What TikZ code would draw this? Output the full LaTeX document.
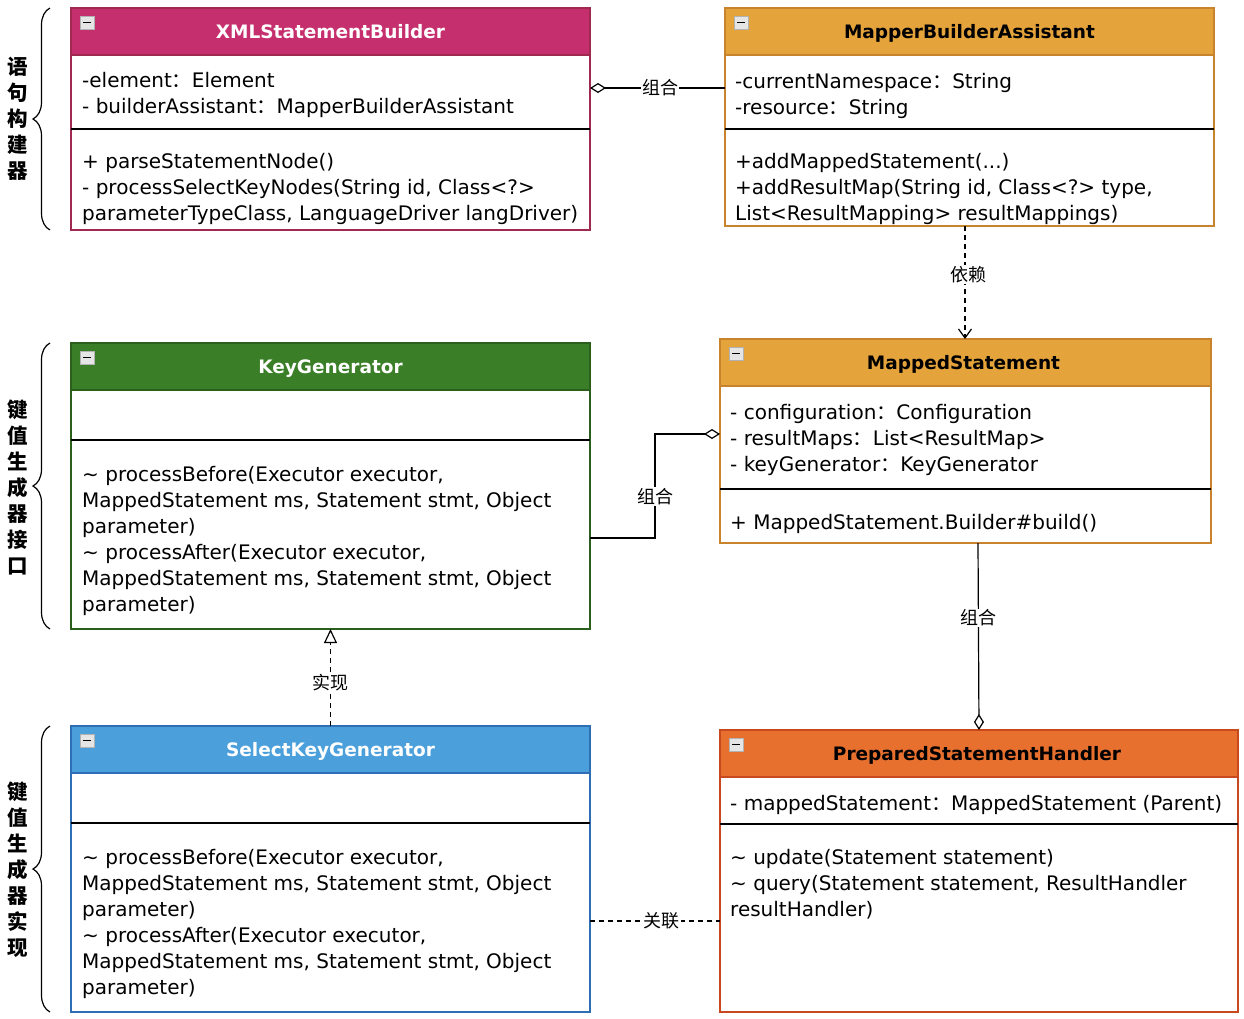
\documentclass[tikz,border=0pt]{standalone}
\usepackage{fontspec}
\setmainfont{DejaVu Sans}
\newfontfamily\cjk{Noto Sans CJK SC}
\usetikzlibrary{arrows.meta,calc,decorations.pathreplacing}
\definecolor{xsbH}{HTML}{C62F6D}
\definecolor{xsbB}{HTML}{A0294F}
\definecolor{orH}{HTML}{E4A33B}
\definecolor{orB}{HTML}{C8832C}
\definecolor{kgH}{HTML}{3A7F27}
\definecolor{kgB}{HTML}{2B5F1C}
\definecolor{skgH}{HTML}{4BA0DC}
\definecolor{skgB}{HTML}{2E6EB5}
\definecolor{pshH}{HTML}{E8702F}
\definecolor{pshB}{HTML}{C9491F}
\newcommand\fcolon{{\cjk ：}}
\newcommand\umlbox[7]{%
  \node[frame, draw=#6, minimum width=#4pt, minimum height=#5pt] (#1) at (#2,#3) {};
  \fill[#7] (#1.north west) rectangle ($(#1.north east)+(0,47)$);
  \draw[#6, line width=1.2pt] ($(#1.north west)+(0,47)$) -- ($(#1.north east)+(0,47)$);
  \draw[#6, line width=1.5pt] (#1.north west) rectangle (#1.south east);
  \draw[gray!60, fill=gray!20, line width=0.8pt] ($(#1.north west)+(9,8)$) rectangle ++(14,13);
  \draw[black, line width=1.8pt] ($(#1.north west)+(12,14.5)$) -- ++(8,0);
}
\tikzset{odiamond/.tip={Diamond[open, fill=white, length=16pt, width=10pt]}}
\begin{document}
\begin{tikzpicture}[x=1pt,y=-1pt,
  frame/.style={line width=1.5pt, fill=white, anchor=north west, inner sep=0pt, outer sep=0pt},
  title/.style={font=\fontsize{18.5}{22}\selectfont\bfseries, inner sep=0pt, anchor=base},
  body/.style={anchor=north west, inner sep=0pt, align=left, font=\fontsize{20}{26}\selectfont},
  divider/.style={line width=2.2pt, black},
  conn/.style={line width=1.2pt, black},
  dashline/.style={conn, dash pattern=on 5pt off 4pt},
  lbl/.style={fill=white, inner sep=1pt, font=\cjk\fontsize{18}{20}\selectfont},
  side/.style={font=\cjk\bfseries\fontsize{20.5}{26}\selectfont, align=center, inner sep=0pt},
  bracestyle/.style={decorate, decoration={brace, amplitude=17pt}, line width=1.2pt}
]
\fill[white] (0,0) rectangle (1244,1018);
\useasboundingbox (0,0) rectangle (1244,1018);

% ---------- classes ----------
\umlbox{xsb}{71}{8}{519}{222}{xsbB}{xsbH}
\umlbox{mba}{725}{8}{489}{218}{orB}{orH}
\umlbox{kg}{71}{343}{519}{286}{kgB}{kgH}
\umlbox{ms}{720}{339}{491}{204}{orB}{orH}
\umlbox{skg}{71}{726}{519}{286}{skgB}{skgH}
\umlbox{psh}{720}{730}{518}{282}{pshB}{pshH}

% titles
\node[title, text=white] (xsbT) at ($(xsb.north)+(0,30.5)$) {XMLStatementBuilder};
\node[title, text=black] (mbaT) at ($(mba.north)+(0,30.5)$) {MapperBuilderAssistant};
\node[title, text=white] (kgT) at ($(kg.north)+(0,30.5)$) {KeyGenerator};
\node[title, text=black] (msT) at ($(ms.north)+(-2,30.5)$) {MappedStatement};
\node[title, text=white] (skgT) at ($(skg.north)+(0,30.5)$) {SelectKeyGenerator};
\node[title, text=black] (pshT) at ($(psh.north)+(-2,30.5)$) {PreparedStatementHandler};

% dividers
\draw[divider] ($(xsb.north west)+(0,121)$) -- ($(xsb.north east)+(0,121)$);
\draw[divider] ($(mba.north west)+(0,121)$) -- ($(mba.north east)+(0,121)$);
\draw[divider] ($(kg.north west)+(0,97)$) -- ($(kg.north east)+(0,97)$);
\draw[divider] ($(ms.north west)+(0,150)$) -- ($(ms.north east)+(0,150)$);
\draw[divider] ($(skg.north west)+(0,97)$) -- ($(skg.north east)+(0,97)$);
\draw[divider] ($(psh.north west)+(0,94)$) -- ($(psh.north east)+(0,94)$);

% body texts
\node[body] (xsbA) at (82,68) {\rule{0pt}{19pt}-element\fcolon Element\\- builderAssistant\fcolon MapperBuilderAssistant};
\node[body] (xsbM) at (82,149) {\rule{0pt}{19pt}+ parseStatementNode()\\- processSelectKeyNodes(String id, Class<?>\\parameterTypeClass, LanguageDriver langDriver)};
\node[body] (mbaA) at (735,69) {\rule{0pt}{19pt}-currentNamespace\fcolon String\\-resource\fcolon String};
\node[body] (mbaM) at (735,149) {\rule{0pt}{19pt}+addMappedStatement(...)\\+addResultMap(String id, Class<?> type,\\List<ResultMapping> resultMappings)};
\node[body] (kgM) at (82,462) {\rule{0pt}{19pt}\textasciitilde{} processBefore(Executor executor,\\MappedStatement ms, Statement stmt, Object\\parameter)\\\textasciitilde{} processAfter(Executor executor,\\MappedStatement ms, Statement stmt, Object\\parameter)};
\node[body] (msA) at (730,400) {\rule{0pt}{19pt}- configuration\fcolon Configuration\\- resultMaps\fcolon List<ResultMap>\\- keyGenerator\fcolon KeyGenerator};
\node[body] (msM) at (730,510) {\rule{0pt}{19pt}+ MappedStatement.Builder\#build()};
\node[body] (skgM) at (82,845) {\rule{0pt}{19pt}\textasciitilde{} processBefore(Executor executor,\\MappedStatement ms, Statement stmt, Object\\parameter)\\\textasciitilde{} processAfter(Executor executor,\\MappedStatement ms, Statement stmt, Object\\parameter)};
\node[body] (pshA) at (730,791) {\rule{0pt}{19pt}- mappedStatement\fcolon MappedStatement (Parent)};
\node[body] (pshM) at (730,845) {\rule{0pt}{19pt}\textasciitilde{} update(Statement statement)\\\textasciitilde{} query(Statement statement, ResultHandler\\resultHandler)};

% ---------- connectors ----------
\draw[conn, {odiamond}-] ($(xsb.north east)+(0,80)$) -- node[lbl, pos=0.52] (l1) {组合} ($(mba.north west)+(0,80)$);
\draw[dashline, -{Straight Barb[length=9pt, width=13pt]}] ($(mba.south west)+(240,0)$) -- node[lbl, pos=0.43, xshift=3pt] (l2) {依赖} ($(ms.north west)+(245,0)$);
\draw[conn, -{odiamond}] ($(kg.north east)+(0,195)$) -- ++(65,0) -- node[lbl, pos=0.4] (l3) {组合} ++(0,-104) -- ($(ms.north west)+(0,95)$);
\draw[dashline, -{Triangle[open, fill=white, length=14pt, width=13pt]}] (skg.north) -- node[lbl, pos=0.45] (l4) {实现} (kg.south);
\draw[conn, -{odiamond}] ($(ms.south west)+(258,0)$) -- node[lbl, pos=0.4] (l5) {组合} ($(psh.north west)+(259,0)$);
\draw[dashline] ($(skg.north east)+(0,195)$) -- node[lbl, pos=0.55] (l6) {关联} ($(psh.north west)+(0,191)$);

% ---------- side braces and labels ----------
\draw[bracestyle] (50,230) -- (50,8);
\draw[bracestyle] (50,629) -- (50,343);
\draw[bracestyle] (50,1012) -- (50,726);
\node[side] (s1) at (18,119) {语\\句\\构\\建\\器};
\node[side] (s2) at (18,487) {键\\值\\生\\成\\器\\接\\口};
\node[side] (s3) at (18,870) {键\\值\\生\\成\\器\\实\\现};
\end{tikzpicture}
\end{document}
